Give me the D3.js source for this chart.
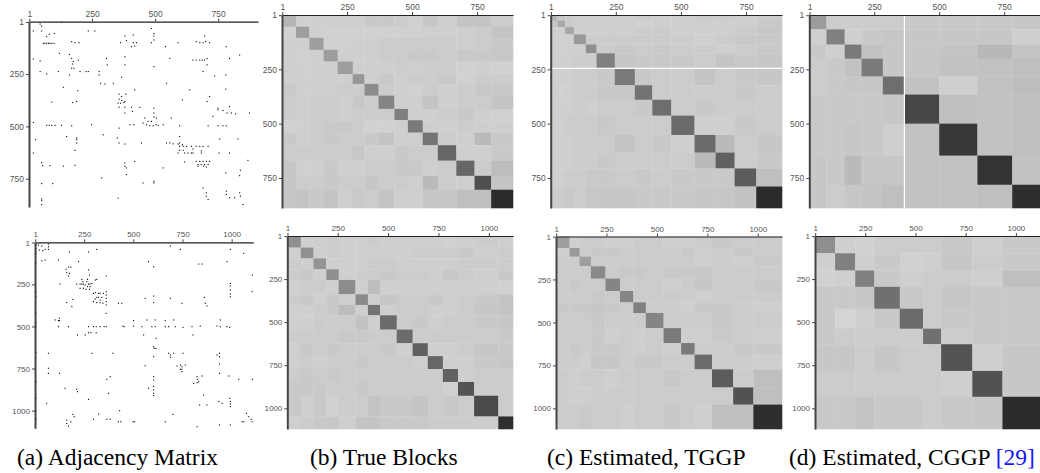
<!DOCTYPE html>
<meta charset="utf-8">
<style>
  body { margin: 0; background: #fff; }
  svg { display: block; }
  .tick text { font-family: 'Liberation Sans', Arial, sans-serif; fill: #555; }
  .cap { font-family: 'Liberation Serif', 'Times New Roman', serif; fill: #000; }
</style>
<svg width="1040" height="473"></svg>
<script src="https://d3js.org/d3.v7.min.js"></script>
<script>
// tick labels
var ticksTop = [1, 250, 500, 750];
var ticksBot = [1, 250, 500, 750, 1000];

// adjacency entries, each pair is [column node, row node]
var adjTop = [[44,11],[50,21],[129,3],[485,32],[17,44],[50,44],[235,44],[261,44],[70,71],[80,60],[100,56],[380,68],[413,63],[495,56],[495,68],[696,68],[386,90],[363,100],[413,100],[426,100],[485,100],[495,87],[591,100],[663,95],[677,100],[690,100],[700,95],[716,100],[169,95],[182,100],[198,100],[57,103],[63,103],[70,103],[77,103],[83,103],[90,103],[99,103],[406,119],[419,116],[541,119],[782,119],[120,151],[160,156],[380,167],[835,159],[17,178],[44,187],[169,175],[175,190],[195,183],[307,175],[310,206],[558,175],[650,183],[663,183],[677,183],[687,183],[696,183],[706,176],[706,206],[795,175],[173,202],[169,222],[178,222],[380,206],[495,214],[44,238],[70,249],[116,238],[160,254],[202,238],[226,238],[235,238],[278,238],[278,254],[780,254],[690,238],[367,265],[736,259],[284,294],[301,297],[334,294],[545,294],[136,313],[193,329],[384,346],[357,346],[367,357],[637,325],[780,322],[419,325],[716,357],[357,370],[367,376],[380,381],[608,373],[353,389],[363,389],[376,386],[90,384],[173,386],[189,381],[357,408],[380,408],[406,408],[439,409],[495,413],[749,413],[795,405],[706,381],[380,436],[410,428],[495,436],[564,460],[749,421],[769,424],[785,436],[802,436],[819,440],[874,436],[729,452],[459,460],[495,455],[505,460],[472,476],[485,476],[466,492],[479,497],[492,497],[503,492],[512,495],[532,492],[452,484],[17,481],[357,508],[597,497],[400,492],[415,492],[70,495],[80,495],[90,495],[103,495],[129,495],[169,497],[248,492],[710,497],[749,497],[769,497],[782,497],[294,540],[149,548],[189,555],[189,563],[350,555],[597,548],[756,560],[828,560],[608,587],[597,579],[545,579],[558,579],[571,583],[591,584],[597,595],[611,595],[624,595],[644,595],[663,595],[677,595],[690,595],[710,595],[597,614],[611,614],[617,627],[630,627],[644,627],[650,627],[591,627],[650,608],[683,617],[683,627],[753,627],[795,627],[182,614],[17,627],[357,579],[380,584],[189,579],[446,579],[617,670],[419,667],[663,667],[677,667],[690,667],[703,667],[716,667],[670,682],[683,682],[696,682],[710,682],[670,690],[692,690],[703,694],[50,674],[54,687],[83,687],[136,690],[182,686],[380,674],[380,690],[386,698],[868,662],[838,709],[532,698],[288,746],[386,730],[452,770],[495,770],[780,722],[835,735],[94,773],[50,773],[495,762],[690,794],[703,817],[782,809],[795,841],[835,817],[782,825],[838,833],[703,833],[710,849],[815,841],[353,843],[50,846],[50,855],[50,873],[848,873],[26,563]];

var adjBot = [[5,16],[5,36],[5,55],[5,69],[17,16],[34,22],[51,42],[68,10],[68,26],[68,42],[22,46],[39,50],[688,22],[739,42],[993,42],[175,57],[272,57],[314,42],[1061,65],[5,121],[34,109],[51,105],[119,105],[221,115],[577,115],[603,145],[832,129],[849,129],[976,115],[158,160],[170,147],[182,147],[161,180],[175,184],[170,200],[272,164],[277,194],[362,200],[1105,194],[5,293],[127,248],[238,220],[238,248],[212,248],[229,248],[246,248],[255,253],[263,234],[272,248],[280,248],[267,263],[246,273],[229,273],[260,279],[277,279],[280,263],[243,234],[267,220],[289,244],[306,224],[314,220],[5,323],[993,244],[993,259],[993,283],[993,307],[993,323],[1104,293],[297,303],[306,299],[323,303],[331,303],[348,303],[362,293],[362,313],[362,333],[362,352],[314,327],[323,327],[331,343],[297,352],[314,358],[331,358],[306,337],[340,327],[345,362],[192,339],[161,358],[187,382],[362,372],[362,422],[424,362],[441,362],[560,333],[603,319],[603,358],[688,333],[747,362],[861,327],[866,362],[874,378],[124,451],[124,465],[5,422],[5,477],[5,501],[102,461],[119,465],[119,501],[170,501],[272,501],[284,537],[297,501],[311,537],[311,501],[331,501],[351,501],[362,501],[447,497],[453,501],[501,465],[501,497],[543,501],[569,461],[594,501],[611,501],[611,461],[662,465],[662,501],[679,501],[705,461],[713,501],[752,505],[798,501],[840,497],[942,461],[925,497],[942,501],[976,501],[990,505],[216,550],[255,550],[272,537],[552,550],[803,550],[616,570],[603,620],[606,630],[615,630],[603,679],[5,655],[68,659],[289,659],[396,659],[679,659],[688,669],[688,683],[705,659],[752,659],[925,669],[938,659],[938,679],[560,733],[722,735],[739,729],[747,739],[739,754],[747,754],[764,729],[747,768],[68,748],[68,778],[124,778],[938,723],[938,778],[985,794],[1105,814],[5,828],[382,798],[365,814],[603,798],[603,818],[603,857],[824,798],[827,814],[824,834],[832,828],[807,838],[849,794],[1036,814],[153,867],[212,873],[216,887],[374,897],[577,867],[603,877],[603,897],[603,911],[857,907],[990,927],[993,946],[993,960],[993,976],[934,946],[874,966],[5,927],[59,956],[272,933],[837,966],[951,956],[430,1000],[5,1000],[192,1022],[199,1036],[161,1056],[161,1076],[170,1091],[182,1066],[5,1051],[297,1051],[323,1020],[365,1051],[382,1051],[424,1066],[436,1066],[498,1066],[506,1066],[662,1066],[701,1022],[824,1095],[938,1085],[993,1085],[1075,1016],[1087,1036],[1099,1051],[1053,1066],[1061,1066],[1104,1066]];

// block edges (node index) and block shade (darkness, 0 = white, 100 = black)
var trueTopEdges = [0,54,105,160,214,272,317,371,432,484,541,599,670,740,804,888];
var trueTopShade = [
  [29,19,19,19,19,19,21,21,20,18,22,19,23,23,20],
  [18,38,19,18,18,18,18,18,18,18,19,19,19,20,23],
  [19,19,38,18,18,19,19,20,20,20,20,20,19,20,21],
  [19,18,19,39,19,19,19,20,20,21,21,20,21,21,22],
  [19,19,19,19,38,19,19,19,20,19,20,20,18,19,18],
  [19,19,19,19,19,41,19,21,19,20,20,21,18,20,20],
  [21,19,19,19,20,20,45,20,19,18,20,19,20,22,21],
  [20,19,20,20,19,22,20,48,19,19,23,19,20,20,23],
  [20,19,20,20,19,20,20,20,50,19,19,20,21,19,18],
  [18,19,20,21,21,20,18,18,19,52,19,19,20,19,19],
  [21,19,20,21,20,20,21,23,19,19,54,20,19,27,21],
  [20,20,20,20,20,22,19,19,21,20,20,60,19,19,21],
  [22,19,19,21,19,19,20,20,21,21,19,20,60,20,26],
  [22,20,20,21,20,20,22,20,20,19,27,20,19,69,23],
  [22,23,21,23,19,21,20,23,19,19,22,22,25,25,83]
];

var tggpTopEdges = [0,26,55,89,135,176,246,323,390,463,552,633,706,789,888];
var tggpTopShade = [
  [30,22,20,19,19,19,19,20,19,19,20,20,19,20],
  [22,34,20,19,19,19,19,18,19,19,19,19,19,21],
  [19,19,34,19,19,19,19,20,20,19,19,19,20,22],
  [19,19,19,40,20,20,20,20,20,20,19,20,21,21],
  [19,19,19,19,44,20,21,20,21,20,20,19,20,21],
  [19,19,19,20,20,50,22,21,21,21,20,23,21,22],
  [19,19,19,20,20,21,52,21,20,20,23,20,21,22],
  [19,18,19,20,20,21,21,55,20,20,20,20,21,20],
  [19,19,19,20,19,20,20,21,57,20,21,20,20,20],
  [19,19,20,20,20,21,20,20,20,58,19,19,21,20],
  [19,19,19,20,20,20,23,20,21,19,58,27,20,22],
  [19,19,19,20,20,21,20,20,20,20,27,62,20,21],
  [19,19,20,20,21,21,20,21,20,21,21,21,64,25],
  [20,20,21,20,22,22,22,21,21,21,22,22,24,83]
];
var tggpTopSplit = 246;   // white row split

var cggpTopEdges = [0,66,136,201,283,366,500,647,781,888];
var cggpTopShade = [
  [39,20,20,20,20,21,21,21,22],
  [19,50,19,21,22,22,22,22,19],
  [21,19,52,24,22,22,23,28,23],
  [20,21,24,52,22,22,24,24,25],
  [20,21,22,22,57,24,19,24,26],
  [21,21,21,21,22,72,25,24,25],
  [21,21,22,21,19,24,78,24,25],
  [22,21,27,22,22,24,24,80,24],
  [22,20,22,23,25,24,24,25,82]
];
var cggpTopSplit = 366;   // white column split

var trueBotEdges = [0,67,130,193,255,338,400,460,543,622,697,772,847,927,1047,1120];
var trueBotShade = [
  [44,19,19,20,19,19,20,19,19,19,19,18,19,20,19],
  [19,43,19,20,19,19,19,19,19,20,20,20,21,19,20],
  [20,19,42,19,19,19,20,20,19,19,19,19,20,20,20],
  [20,21,19,44,19,20,20,21,20,20,19,21,20,19,21],
  [19,20,20,19,45,19,26,19,19,19,19,19,19,19,18],
  [20,21,19,21,19,46,19,22,20,20,21,19,20,21,23],
  [19,19,20,21,26,19,55,19,20,20,19,19,20,22,23],
  [19,19,20,20,20,24,19,58,20,21,19,20,20,21,22],
  [20,20,20,20,21,21,20,20,58,20,20,20,20,20,21],
  [19,21,20,21,20,20,20,21,19,62,19,19,20,22,21],
  [19,20,19,20,20,21,20,20,20,19,60,19,19,21,22],
  [20,21,20,21,20,20,20,20,20,20,20,62,19,20,20],
  [21,21,21,20,20,21,20,20,20,20,20,18,67,20,20],
  [21,19,21,18,20,20,23,21,21,23,20,21,20,71,20],
  [19,20,21,22,19,23,23,21,21,21,20,20,20,20,82]
];

var tggpBotEdges = [0,67,117,173,245,317,383,445,533,620,687,773,878,978,1120];
var tggpBotShade = [
  [38,19,20,20,19,19,20,20,19,19,20,21,20,20],
  [19,40,20,21,21,20,20,20,20,21,19,20,21,20],
  [20,20,38,20,20,20,20,20,20,20,19,20,19,21],
  [20,20,20,46,20,21,21,20,21,21,22,20,20,20],
  [20,21,20,20,48,20,20,20,19,20,22,20,20,21],
  [20,20,20,21,20,48,20,20,20,20,19,20,20,20],
  [21,21,21,22,21,20,50,20,20,19,21,21,20,19],
  [20,20,20,21,20,20,20,48,20,20,20,21,20,20],
  [20,20,20,21,19,20,19,20,52,19,19,21,20,19],
  [20,21,20,21,21,20,19,20,19,52,20,20,21,21],
  [20,20,19,22,22,20,21,21,20,20,58,20,20,19],
  [20,19,20,20,19,20,20,20,21,20,20,64,20,25],
  [20,19,19,20,20,20,20,20,20,20,20,20,68,25],
  [20,20,21,20,20,19,20,20,21,20,19,25,25,82]
];

var cggpBotEdges = [0,100,200,295,422,538,628,783,933,1120];
var cggpBotShade = [
  [44,19,18,20,20,20,21,19,21],
  [19,50,19,21,18,19,22,20,21],
  [18,19,50,21,19,20,20,19,25],
  [21,21,22,56,21,20,22,21,21],
  [21,17,19,21,58,20,21,21,21],
  [21,20,20,20,20,56,20,21,21],
  [22,22,20,22,20,20,67,19,22],
  [20,20,20,20,20,20,19,68,22],
  [21,21,23,21,21,20,21,22,83]
];

var captions = ["(a) Adjacency Matrix", "(b) True Blocks", "(c) Estimated, TGGP", "(d) Estimated, CGGP "];
var citation = "[29]";

var svg = d3.select("svg");
var shade = d3.scaleLinear().domain([0, 100]).range(["#ffffff", "#000000"]);

var panels = [
  {dots: adjTop, x0: 29, x1: 258, y0: 21.7, y1: 207, nx: 908, ny: 885, ticks: ticksTop, fs: 8.5},
  {edges: trueTopEdges, shade: trueTopShade, x0: 282, x1: 513, y0: 15, y1: 208, nx: 888, ny: 888, ticks: ticksTop, fs: 8.5},
  {edges: tggpTopEdges, shade: tggpTopShade, rowSplit: tggpTopSplit, x0: 550.7, x1: 782, y0: 15, y1: 208, nx: 888, ny: 888, ticks: ticksTop, fs: 8.5},
  {edges: cggpTopEdges, shade: cggpTopShade, colSplit: cggpTopSplit, x0: 809.3, x1: 1040, y0: 15, y1: 208, nx: 888, ny: 888, ticks: ticksTop, fs: 8.5},
  {dots: adjBot, x0: 35, x1: 253.3, y0: 242.3, y1: 428.3, nx: 1110, ny: 1105, ticks: ticksBot, fs: 8},
  {edges: trueBotEdges, shade: trueBotShade, x0: 287.3, x1: 513, y0: 236, y1: 429, nx: 1120, ny: 1120, ticks: ticksBot, fs: 8},
  {edges: tggpBotEdges, shade: tggpBotShade, x0: 556, x1: 782, y0: 236.5, y1: 429, nx: 1120, ny: 1120, ticks: ticksBot, fs: 8},
  {edges: cggpBotEdges, shade: cggpBotShade, x0: 815, x1: 1040, y0: 236, y1: 429, nx: 1120, ny: 1120, ticks: ticksBot, fs: 8}
];

panels.forEach(function(p) {
  var x = d3.scaleLinear().domain([0, p.nx]).range([p.x0, p.x1]);
  var y = d3.scaleLinear().domain([0, p.ny]).range([p.y0, p.y1]);
  var g = svg.append("g");

  if (p.dots) {
    g.selectAll("rect.dot")
      .data(p.dots)
      .enter().append("rect")
        .attr("class", "dot")
        .attr("x", function(d) { return x(d[0]) - 0.5; })
        .attr("y", function(d) { return y(d[1]) - 0.5; })
        .attr("width", 1.1)
        .attr("height", 1.1)
        .attr("fill", "#000");
  } else {
    var cells = [];
    p.shade.forEach(function(row, i) {
      row.forEach(function(v, j) { cells.push({i: i, j: j, v: v}); });
    });
    g.selectAll("rect.cell")
      .data(cells)
      .enter().append("rect")
        .attr("class", "cell")
        .attr("x", function(d) { return x(p.edges[d.j]); })
        .attr("y", function(d) { return y(p.edges[d.i]); })
        .attr("width", function(d) { return x(p.edges[d.j + 1]) - x(p.edges[d.j]) + 0.3; })
        .attr("height", function(d) { return y(p.edges[d.i + 1]) - y(p.edges[d.i]) + 0.3; })
        .attr("fill", function(d) { return shade(d.v); });

    if (p.rowSplit) {
      g.append("line")
        .attr("x1", p.x0).attr("x2", p.x1)
        .attr("y1", y(p.rowSplit)).attr("y2", y(p.rowSplit))
        .attr("stroke", "#fff").attr("stroke-width", 1.2);
    }
    if (p.colSplit) {
      g.append("line")
        .attr("y1", p.y0).attr("y2", p.y1)
        .attr("x1", x(p.colSplit)).attr("x2", x(p.colSplit))
        .attr("stroke", "#fff").attr("stroke-width", 1.2);
    }
  }

  var fmt = d3.format("d");
  var top = g.append("g")
      .attr("transform", "translate(0," + p.y0 + ")")
      .call(d3.axisTop(x).tickValues(p.ticks).tickFormat(fmt).tickSize(3).tickPadding(2).tickSizeOuter(0));
  top.select(".domain").attr("stroke", "#222").attr("stroke-width", 1.2);
  top.selectAll(".tick line").attr("stroke", "#444");
  top.selectAll(".tick text").style("font-size", p.fs + "px");

  var left = g.append("g")
      .attr("transform", "translate(" + p.x0 + ",0)")
      .call(d3.axisLeft(y).tickValues(p.ticks).tickFormat(fmt).tickSize(3).tickPadding(2).tickSizeOuter(0));
  left.select(".domain").attr("stroke", "#444").attr("stroke-width", 2);
  left.selectAll(".tick line").attr("stroke", "#444");
  left.selectAll(".tick text").style("font-size", p.fs + "px");
});

var capX = [17, 310, 547, 789];
captions.forEach(function(c, i) {
  var t = svg.append("text")
      .attr("class", "cap")
      .attr("x", capX[i])
      .attr("y", 465)
      .style("font-size", "23.5px")
      .text(c);
  if (i == 3) {
    t.append("tspan").attr("fill", "#1515ff").text(citation);
  }
});
</script>
